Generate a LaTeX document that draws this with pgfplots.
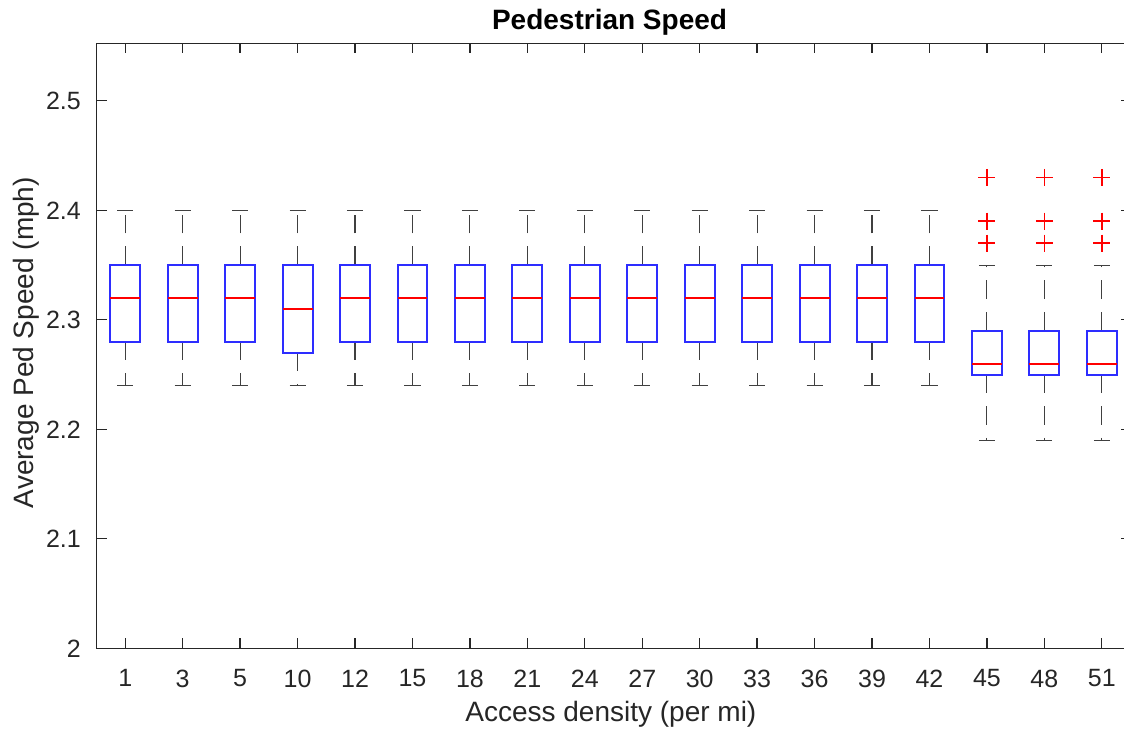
\documentclass[border=0pt]{standalone}
\usepackage{fontspec}
\setmainfont{Liberation Sans}
\usepackage{pgfplots}
\pgfplotsset{compat=1.18}
\usepgfplotslibrary{statistics}
\definecolor{axgray}{RGB}{38,38,38}
\definecolor{boxblue}{RGB}{45,45,255}
\begin{document}
\begin{tikzpicture}
\begin{axis}[
  scale only axis,
  width=775.5pt, height=453.75pt,
  xmin=0.5, xmax=18.5,
  ymin=2, ymax=2.5525,
  xtick={1,...,18},
  xticklabels={1,3,5,10,12,15,18,21,24,27,30,33,36,39,42,45,48,51},
  ytick={2,2.1,2.2,2.3,2.4,2.5},
  yticklabels={2,2.1,2.2,2.3,2.4,2.5},
  tick align=inside,
  major tick length=7.5pt,
  axis line style={draw=axgray, line width=1pt},
  tick style={draw=axgray, line width=1pt},
  ticklabel style={font=\fontsize{18.75}{22}\selectfont, text=axgray},
  xticklabel style={yshift=-12.5pt},
  yticklabel style={xshift=-8.25pt},
  title={\textbf{Pedestrian Speed}},
  title style={font=\fontsize{21}{25}\selectfont, text=black, at={(axis description cs:0.5,1)}, anchor=base, yshift=4pt, xshift=-3pt},
  xlabel={Access density (per mi)},
  xlabel style={font=\fontsize{21}{25}\selectfont, text=axgray, at={(axis description cs:0.5,0)}, anchor=base, yshift=-54.5pt, xshift=-2pt},
  ylabel={Average Ped Speed (mph)},
  ylabel style={font=\fontsize{21}{25}\selectfont, text=axgray, at={(axis description cs:0,0.5)}, anchor=base, yshift=46.9pt, xshift=2.4pt},
  boxplot/draw direction=y,
  boxplot/box extend=0.52,
  boxplot/whisker extend=0.28,
  boxplot/every box/.style={draw=boxblue, solid, line width=1.5pt},
  boxplot/every median/.style={draw=red, solid, line width=1.5pt},
  boxplot/every whisker/.style={draw=black!75, line width=0.85pt, dash pattern=on 14pt off 9.75pt},
  mybox/.style={draw=boxblue, solid, boxplot prepared={draw direction=y, #1}},
]
% 1
\addplot[mybox={draw position=1, lower whisker=2.24, lower quartile=2.28, median=2.32, upper quartile=2.35, upper whisker=2.40}] coordinates {};
% 3
\addplot[mybox={draw position=2, lower whisker=2.24, lower quartile=2.28, median=2.32, upper quartile=2.35, upper whisker=2.40}] coordinates {};
% 5
\addplot[mybox={draw position=3, lower whisker=2.24, lower quartile=2.28, median=2.32, upper quartile=2.35, upper whisker=2.40}] coordinates {};
% 10
\addplot[mybox={draw position=4, lower whisker=2.24, lower quartile=2.27, median=2.31, upper quartile=2.35, upper whisker=2.40}] coordinates {};
% 12
\addplot[mybox={draw position=5, lower whisker=2.24, lower quartile=2.28, median=2.32, upper quartile=2.35, upper whisker=2.40}] coordinates {};
% 15
\addplot[mybox={draw position=6, lower whisker=2.24, lower quartile=2.28, median=2.32, upper quartile=2.35, upper whisker=2.40}] coordinates {};
% 18
\addplot[mybox={draw position=7, lower whisker=2.24, lower quartile=2.28, median=2.32, upper quartile=2.35, upper whisker=2.40}] coordinates {};
% 21
\addplot[mybox={draw position=8, lower whisker=2.24, lower quartile=2.28, median=2.32, upper quartile=2.35, upper whisker=2.40}] coordinates {};
% 24
\addplot[mybox={draw position=9, lower whisker=2.24, lower quartile=2.28, median=2.32, upper quartile=2.35, upper whisker=2.40}] coordinates {};
% 27
\addplot[mybox={draw position=10, lower whisker=2.24, lower quartile=2.28, median=2.32, upper quartile=2.35, upper whisker=2.40}] coordinates {};
% 30
\addplot[mybox={draw position=11, lower whisker=2.24, lower quartile=2.28, median=2.32, upper quartile=2.35, upper whisker=2.40}] coordinates {};
% 33
\addplot[mybox={draw position=12, lower whisker=2.24, lower quartile=2.28, median=2.32, upper quartile=2.35, upper whisker=2.40}] coordinates {};
% 36
\addplot[mybox={draw position=13, lower whisker=2.24, lower quartile=2.28, median=2.32, upper quartile=2.35, upper whisker=2.40}] coordinates {};
% 39
\addplot[mybox={draw position=14, lower whisker=2.24, lower quartile=2.28, median=2.32, upper quartile=2.35, upper whisker=2.40}] coordinates {};
% 42
\addplot[mybox={draw position=15, lower whisker=2.24, lower quartile=2.28, median=2.32, upper quartile=2.35, upper whisker=2.40}] coordinates {};
% 45
\addplot[mybox={draw position=16, lower whisker=2.19, lower quartile=2.25, median=2.26, upper quartile=2.29, upper whisker=2.35}] coordinates {};
% 48
\addplot[mybox={draw position=17, lower whisker=2.19, lower quartile=2.25, median=2.26, upper quartile=2.29, upper whisker=2.35}] coordinates {};
% 51
\addplot[mybox={draw position=18, lower whisker=2.19, lower quartile=2.25, median=2.26, upper quartile=2.29, upper whisker=2.35}] coordinates {};
% outliers
\addplot[only marks, mark=+, mark size=6.4pt, mark options={draw=red, line width=1.3pt, solid}]
  coordinates {(16,2.37) (16,2.39) (16,2.43) (17,2.37) (17,2.39) (17,2.43) (18,2.37) (18,2.39) (18,2.43)};
\coordinate (O) at (rel axis cs:0,0);
\end{axis}
\pgfresetboundingbox
\path[use as bounding box] ([shift={(-72.4pt,-59.8pt)}]O) rectangle ([shift={(770.6pt,486.25pt)}]O);
\end{tikzpicture}
\end{document}
